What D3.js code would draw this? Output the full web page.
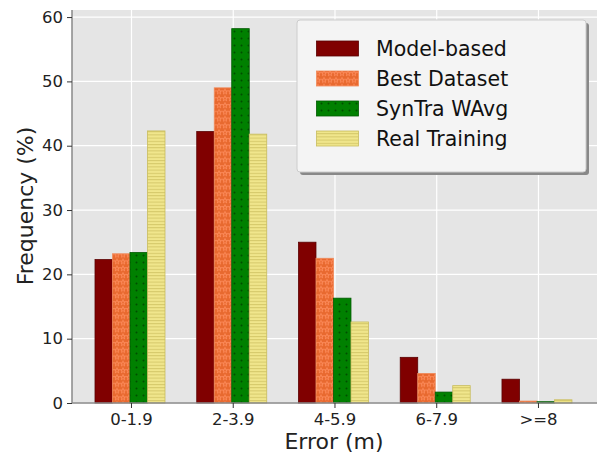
<!DOCTYPE html>
<html>
<head>
<meta charset="utf-8">
<script src="https://cdn.jsdelivr.net/npm/d3@7/dist/d3.min.js"></script>
<style>
  body { margin: 0; background: #fff; }
  svg { font-family: "DejaVu Sans", sans-serif; display: block; }
</style>
</head>
<body>
<script>
var categories = ['0-1.9', '2-3.9', '4-5.9', '6-7.9', '>=8'];
var seriesNames = ['Model-based', 'Best Dataset', 'SynTra WAvg', 'Real Training'];
var modelBased   = [22.3, 42.2, 25.0, 7.1, 3.7];
var bestDataset  = [23.2, 49.0, 22.5, 4.6, 0.3];
var syntraWAvg   = [23.4, 58.2, 16.3, 1.7, 0.2];
var realTraining = [42.3, 41.8, 12.6, 2.7, 0.5];
var yTicks = [0, 10, 20, 30, 40, 50, 60];

var series = [modelBased, bestDataset, syntraWAvg, realTraining];

var
  width  = 597,
  height = 455,
  margin = {left: 72, right: 0, top: 10, bottom: 52},
  barW   = 0.172;

var styles = [
  {fill: '#800000', edge: '#5a0000', pat: null},
  {fill: '#e8692f', edge: '#f08a5a', pat: 'stars'},
  {fill: '#008000', edge: '#005a00', pat: 'dots'},
  {fill: '#f0e68c', edge: '#c8bc5e', pat: 'hlines'}
];

var x = d3.scaleLinear()
  .domain([-0.57, 4.59])
  .range([margin.left, width - margin.right]);
var y = d3.scaleLinear()
  .domain([0, 61.1])
  .range([height - margin.bottom, margin.top]);

var svg = d3.select('body').append('svg')
  .attr('width', width)
  .attr('height', height);

// patterns
var defs = svg.append('defs');
var pStar = defs.append('pattern').attr('id', 'stars')
  .attr('patternUnits', 'userSpaceOnUse').attr('width', 6).attr('height', 6.8);
pStar.append('rect').attr('width', 6).attr('height', 6.8).attr('fill', '#e8692f');
pStar.append('path')
  .attr('d', d3.symbol().type(d3.symbolStar).size(9)())
  .attr('transform', 'translate(3,3.4)')
  .attr('fill', 'none').attr('stroke', '#ff8f60').attr('stroke-width', 0.8);

var pDot = defs.append('pattern').attr('id', 'dots')
  .attr('patternUnits', 'userSpaceOnUse').attr('width', 7).attr('height', 7);
pDot.append('rect').attr('width', 7).attr('height', 7).attr('fill', '#008000');
pDot.append('circle').attr('cx', 3.5).attr('cy', 3.5).attr('r', 1)
  .attr('fill', '#004d00');

var pLine = defs.append('pattern').attr('id', 'hlines')
  .attr('patternUnits', 'userSpaceOnUse').attr('width', 6).attr('height', 3.2);
pLine.append('rect').attr('width', 6).attr('height', 3.2).attr('fill', '#f0e68c');
pLine.append('rect').attr('y', 0).attr('width', 6).attr('height', 1)
  .attr('fill', '#d4c86a');

var shadow = defs.append('filter').attr('id', 'shadow');
shadow.append('feGaussianBlur').attr('stdDeviation', 0.6);

// background
svg.append('rect')
  .attr('x', margin.left).attr('y', margin.top)
  .attr('width', width - margin.left - margin.right)
  .attr('height', height - margin.top - margin.bottom)
  .attr('fill', '#e5e5e5');

// grid
svg.append('g').selectAll('line').data(yTicks).enter().append('line')
  .attr('x1', margin.left).attr('x2', width - margin.right)
  .attr('y1', function(d) { return y(d); }).attr('y2', function(d) { return y(d); })
  .attr('stroke', '#fff').attr('stroke-width', 1.2);
svg.append('g').selectAll('line').data(d3.range(categories.length)).enter().append('line')
  .attr('y1', margin.top).attr('y2', height - margin.bottom)
  .attr('x1', function(d) { return x(d) + 1.5; }).attr('x2', function(d) { return x(d) + 1.5; })
  .attr('stroke', '#fff').attr('stroke-width', 1.2);

// bars
series.forEach(function(vals, s) {
  var st = styles[s];
  svg.append('g').selectAll('rect').data(vals).enter().append('rect')
    .attr('x', function(d, i) { return x(i + (s - 2) * barW); })
    .attr('width', x(barW) - x(0))
    .attr('y', function(d) { return y(d); })
    .attr('height', function(d) { return y(0) - y(d); })
    .attr('fill', st.pat ? 'url(#' + st.pat + ')' : st.fill)
    .attr('stroke', st.edge).attr('stroke-width', 0.8);
});

// axes
var yAxis = svg.append('g')
  .attr('transform', 'translate(' + margin.left + ',0)')
  .call(d3.axisLeft(y).tickValues(yTicks).tickSize(5).tickPadding(4));
var xAxis = svg.append('g')
  .attr('transform', 'translate(0,' + y(0) + ')')
  .call(d3.axisBottom(x).tickValues(d3.range(categories.length))
    .tickFormat(function(d) { return categories[d]; }).tickSize(5).tickPadding(5));
xAxis.selectAll('.tick').attr('transform', function(d) { return 'translate(' + (x(d) + 1.5) + ',0)'; });
[yAxis, xAxis].forEach(function(a) {
  a.select('.domain').attr('stroke', '#888').attr('stroke-width', 1.5);
  a.selectAll('.tick line').attr('stroke', '#333');
  a.selectAll('.tick text').attr('font-size', 16.5).attr('fill', '#222')
    .style('font-family', '"DejaVu Sans", sans-serif');
});
xAxis.select('.domain').attr('d', 'M' + margin.left + ',0H' + width);
yAxis.select('.domain').attr('d', 'M0,' + (height - margin.bottom) + 'V' + margin.top);

svg.append('text')
  .attr('x', 334).attr('y', 449)
  .attr('text-anchor', 'middle').attr('font-size', 22).attr('fill', '#222')
  .text('Error (m)');
svg.append('text')
  .attr('transform', 'translate(33,206) rotate(-90)')
  .attr('text-anchor', 'middle').attr('font-size', 22).attr('fill', '#222')
  .text('Frequency (%)');

// legend
var lg = svg.append('g').attr('transform', 'translate(297,20)');
lg.append('rect').attr('x', 3).attr('y', 3).attr('width', 289).attr('height', 152)
  .attr('rx', 3).attr('fill', '#888').attr('filter', 'url(#shadow)');
lg.append('rect').attr('width', 289).attr('height', 152).attr('rx', 3)
  .attr('fill', '#f4f4f4').attr('stroke', '#ccc').attr('stroke-width', 1);
seriesNames.forEach(function(name, s) {
  var st = styles[s];
  var row = lg.append('g').attr('transform', 'translate(0,' + (20 + s * 30) + ')');
  row.append('rect').attr('x', 19.5).attr('y', 1).attr('width', 42).attr('height', 15)
    .attr('fill', st.pat ? 'url(#' + st.pat + ')' : st.fill)
    .attr('stroke', st.edge).attr('stroke-width', 0.8);
  row.append('text').attr('x', 79).attr('y', 16)
    .attr('font-size', 20.5).attr('fill', '#111').text(name);
});
</script>
</body>
</html>
